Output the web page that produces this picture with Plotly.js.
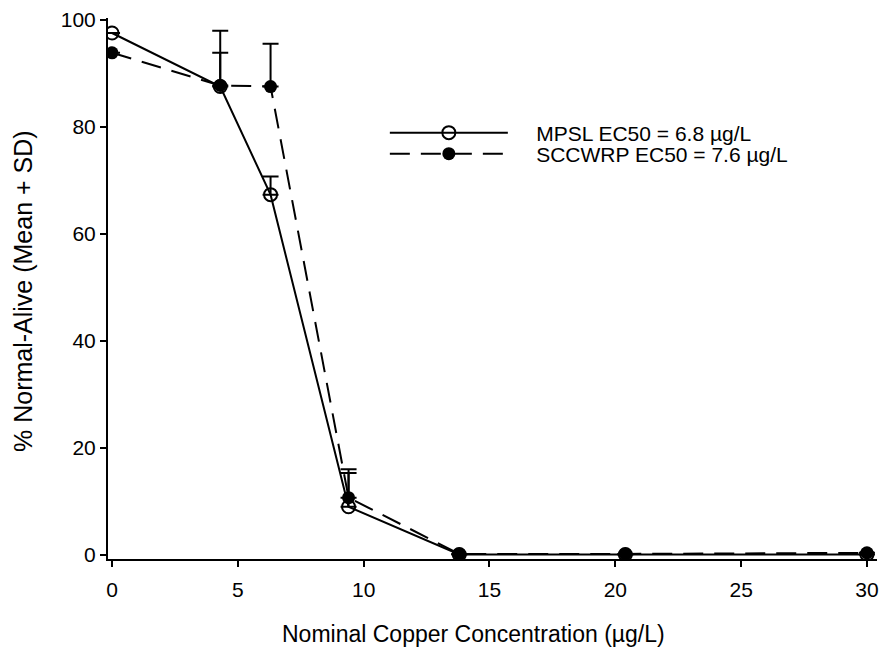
<!DOCTYPE html>
<html>
<head>
<meta charset="utf-8">
<script src="https://cdn.plot.ly/plotly-3.0.1.min.js"></script>
<style>html,body{margin:0;padding:0;background:#fff;}#chart{width:884px;height:656px;}</style>
</head>
<body>
<div id="chart"></div>
<script>
const concentration = [0, 4.3, 6.3, 9.4, 13.8, 20.4, 30];
const mpslMean = [97.5, 87.5, 67.3, 9.0, 0.1, 0.1, 0.1];
const mpslSD = [0, 6.3, 3.4, 7.0, 0, 0, 0];
const sccwrpMean = [93.8, 87.7, 87.5, 10.7, 0.2, 0.2, 0.4];
const sccwrpSD = [0, 10.2, 8.0, 4.6, 0, 0, 0];
const mpslName = 'MPSL EC50 = 6.8 µg/L';
const sccwrpName = 'SCCWRP EC50 = 7.6 µg/L';
const xTicks = [0, 5, 10, 15, 20, 25, 30];
const yTicks = [0, 20, 40, 60, 80, 100];
const xTitle = 'Nominal Copper Concentration (µg/L)';
const yTitle = '% Normal-Alive (Mean + SD)';

const font = 'Liberation Sans, Arial, sans-serif';
const pad = '\u00a0\u00a0\u00a0\u00a0';

const traces = [
  {
    x: concentration, y: mpslMean, name: pad + mpslName, type: 'scatter', mode: 'lines+markers',
    legend: 'legend',
    line: {color: '#000', width: 2},
    marker: {symbol: 'circle-open', size: 13, color: '#000', line: {width: 2, color: '#000'}},
    error_y: {type: 'data', array: mpslSD, arrayminus: mpslSD.map(() => 0), symmetric: false, color: '#000', thickness: 2, width: 8}
  },
  {
    x: concentration, y: sccwrpMean, name: pad + sccwrpName, type: 'scatter', mode: 'lines+markers',
    legend: 'legend2',
    line: {color: '#000', width: 2, dash: '20px,11px'},
    marker: {symbol: 'circle', size: 13, color: '#000'},
    error_y: {type: 'data', array: sccwrpSD, arrayminus: sccwrpSD.map(() => 0), symmetric: false, color: '#000', thickness: 2, width: 8}
  }
];

const legendBase = {xanchor: 'left', yanchor: 'middle', bgcolor: 'rgba(0,0,0,0)',
  font: {family: font, size: 21, color: '#000'}, itemwidth: 118, borderwidth: 0};

const layout = {
  width: 884, height: 656,
  margin: {l: 108, r: 7, t: 18, b: 97},
  paper_bgcolor: '#fff', plot_bgcolor: '#fff',
  font: {family: font, size: 21, color: '#000'},
  showlegend: true,
  legend: Object.assign({x: 0.36, y: (559 - 133) / 541}, legendBase),
  legend2: Object.assign({x: 0.36, y: (559 - 154) / 541}, legendBase),
  xaxis: {
    range: [-0.16, 30.4], tickvals: xTicks, ticktext: xTicks.map(String),
    showgrid: false, zeroline: false, showline: true, linecolor: '#000', linewidth: 2,
    ticks: 'outside', ticklen: 6, tickwidth: 2, tickcolor: '#000', tickfont: {size: 21},
    ticklabelstandoff: 5
  },
  yaxis: {
    range: [-0.75, 100.3], tickvals: yTicks, ticktext: yTicks.map(String),
    showgrid: false, zeroline: false, showline: true, linecolor: '#000', linewidth: 2,
    ticks: 'outside', ticklen: 6, tickwidth: 2, tickcolor: '#000', tickfont: {size: 21}
  },
  annotations: [
    {text: xTitle, xref: 'paper', yref: 'paper', x: (473 - 108) / 769, y: -(634 - 559) / 541,
     xanchor: 'center', yanchor: 'middle', showarrow: false, font: {size: 23}},
    {text: yTitle, xref: 'paper', yref: 'paper', x: -(108 - 23) / 769, y: (559 - 291) / 541,
     xanchor: 'center', yanchor: 'middle', showarrow: false, textangle: -90, font: {size: 25}}
  ]
};

Plotly.newPlot('chart', traces, layout, {displayModeBar: false, staticPlot: true});
</script>
</body>
</html>
